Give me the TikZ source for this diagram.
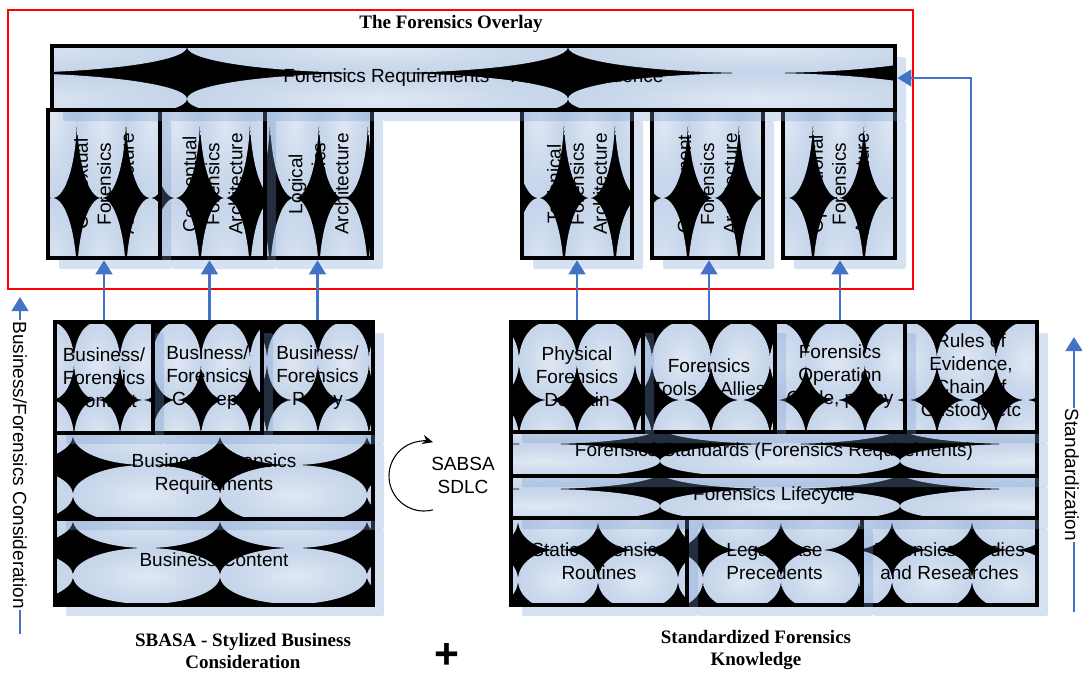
\documentclass[tikz,border=0pt]{standalone}
\usepackage{fontspec}
\setmainfont{Liberation Serif}
\setsansfont{Liberation Sans}
\usetikzlibrary{arrows.meta}

\definecolor{ellin}{RGB}{224,232,244}
\definecolor{ellmid}{RGB}{203,217,236}
\definecolor{ellout}{RGB}{176,196,226}
\definecolor{shadowblue}{RGB}{120,155,210}
\definecolor{linkblue}{RGB}{68,114,196}

% soft light-blue fill for one ellipse tile
\pgfdeclareradialshading{ellfill}{\pgfpoint{0bp}{0bp}}{color(0bp)=(ellin); color(18bp)=(ellmid); color(50bp)=(ellout); color(100bp)=(ellout)}

\tikzset{
  panel/.style={draw=black, line width=3.5pt, rectangle, inner sep=0pt, outer sep=1.75pt},
  lbl/.style={font=\sffamily\fontsize{14.25pt}{17.25pt}\selectfont, align=center, inner sep=0pt, text=black},
  capt/.style={font=\rmfamily\bfseries\fontsize{14.25pt}{16.5pt}\selectfont, align=center, inner sep=0pt},
  link/.style={draw=linkblue, line width=1.9pt, -{Triangle[width=12.5pt,length=10.5pt]}},
}

% black ground tiled with shaded ellipses (4-point star gaps)
% #1,#2 corner  #3,#4 opposite corner  #5 first gap x  #6 x period  #7 gap row y  #8 y period
\newcommand\tilefill[8]{%
  \begin{scope}
    \clip (#1,#2) rectangle (#3,#4);
    \fill[black] (#1,#2) rectangle (#3,#4);
    \foreach \ti in {-1,...,3}{%
      \foreach \tj in {-1,...,2}{%
        \pgfmathsetmacro\tlx{#5-#6/2+\ti*#6}%
        \pgfmathsetmacro\tly{#7-#8/2+\tj*#8}%
        \shade[shading=ellfill] (\tlx,\tly) ellipse [x radius=#6/2, y radius=#8/2];
      }}
  \end{scope}}

% shadow + tiled fill + framed node
% #1 name  #2..#5 box  #6..#9 tiling
\newcommand\tiledpanel[9]{%
  \fill[shadowblue, fill opacity=0.3, rounded corners=1.5pt] ({#2+11},{#3+11}) rectangle ({#4+11},{#5+11});
  \tilefill{#2}{#3}{#4}{#5}{#6}{#7}{#8}{#9}%
  \pgfmathsetmacro\pnw{(#4-#2)*0.75}%
  \pgfmathsetmacro\pnh{(#5-#3)*0.75}%
  \node[panel, minimum width=\pnw pt, minimum height=\pnh pt] (#1) at ({(#2+#4)/2},{(#3+#5)/2}) {};
}

\begin{document}
\begin{tikzpicture}[x=0.75pt,y=-0.75pt]
\useasboundingbox (0,0) rectangle (1082,675);

% ---------- the forensics overlay ----------
\draw[red, line width=2pt] (8,10) rectangle (913,289);
\node[capt] (title) at (451,24) {The Forensics Overlay};

\tiledpanel{V3}{265}{110}{372}{258}{270}{49}{198}{166}
\tiledpanel{V2}{160}{110}{265}{258}{150}{50}{198}{166}
\tiledpanel{V1}{48}{110}{160}{258}{77}{49}{198}{166}
\tiledpanel{V6}{783}{110}{895}{258}{813}{51}{198}{166}
\tiledpanel{V5}{652}{110}{763}{258}{688}{51}{198}{166}
\tiledpanel{V4}{522}{110}{632}{258}{564}{51}{198}{166}
\tiledpanel{BAN}{52}{46}{895}{110}{187}{381}{73}{52}

\node[lbl] at (BAN) {Forensics Requirements – Rules of Evidence};
\node[lbl, rotate=90] at (V1) {Contextual\\Forensics\\Architecture};
\node[lbl, rotate=90] at (V2) {Conceptual\\Forensics\\Architecture};
\node[lbl, rotate=90] at (V3) {Logical\\Forensics\\Architecture};
\node[lbl, rotate=90] at (V4) {Technical\\Forensics\\Architecture};
\node[lbl, rotate=90] at (V5) {Component\\Forensics\\Architecture};
\node[lbl, rotate=90] at (V6) {Operational\\Forensics\\Architecture};

% ---------- business block ----------
\tiledpanel{BC}{55}{519}{373}{605}{73}{147}{548}{56}
\tiledpanel{REQ}{55}{433}{373}{519}{73}{147}{465}{60}
\tiledpanel{C3}{262}{322}{373}{433}{267}{51}{400}{78}
\tiledpanel{C2}{153}{322}{262}{433}{152}{49}{400}{78}
\tiledpanel{C1}{55}{322}{153}{433}{74}{46}{400}{78}

\node[lbl] at (C1) {Business/\\Forensics\\Context};
\node[lbl] at (C2) {Business/\\Forensics\\Concept};
\node[lbl] at (C3) {Business/\\Forensics\\Policy};
\node[lbl] at ([yshift=1.5pt]REQ) {Business/Forensics\\Requirements};
\node[lbl] at ([yshift=1.5pt]BC) {Business Content};

% ---------- standardized knowledge block ----------
\tiledpanel{B3}{862}{518}{1037}{605}{892}{80}{550}{60}
\tiledpanel{B2}{687}{518}{862}{605}{703}{78}{550}{60}
\tiledpanel{B1}{511}{518}{687}{605}{518}{80}{550}{60}
\tiledpanel{LIFE}{511}{476}{1037}{518}{660}{240}{489}{34}
\tiledpanel{STD}{511}{432}{1037}{476}{660}{240}{444}{34}
\tiledpanel{R4}{905}{322}{1037}{432}{937}{59}{400}{78}
\tiledpanel{R3}{775}{322}{905}{432}{806}{59}{400}{78}
\tiledpanel{R2}{643}{322}{775}{432}{652}{59}{400}{78}
\tiledpanel{R1}{511}{322}{643}{432}{519}{58}{400}{78}

\node[lbl] at (R1) {Physical\\Forensics\\Domain};
\node[lbl] at (R2) {Forensics\\Tools \& Allies};
\node[lbl] at (R3) {Forensics\\Operation\\Cycle, policy};
\node[lbl] at (R4) {Rules of\\Evidence,\\Chain of\\Custody etc};
\node[lbl] at ([yshift=1.5pt]STD) {Forensics Standards (Forensics Requirements)};
\node[lbl] at ([yshift=1pt]LIFE) {Forensics Lifecycle};
\node[lbl] at (B1) {Static Forensics\\Routines};
\node[lbl] at (B2) {Legal Case\\Precedents};
\node[lbl] at (B3) {Forensics Studies\\and Researches};

% ---------- links into the overlay ----------
\draw[link] (C1.north) -- (C1.north |- V1.south);
\draw[link] ([xshift=1.5pt]C2.north) -- ([xshift=1.5pt]C2.north |- V2.south);
\draw[link] (C3.north) -- (C3.north |- V3.south);
\draw[link] (R1.north) -- (R1.north |- V4.south);
\draw[link] (R2.north) -- (R2.north |- V5.south);
\draw[link] (R3.north) -- (R3.north |- V6.south);
\draw[link] (R4.north) |- (BAN.east);

% ---------- side axes ----------
\coordinate (bfLow) at (20,634);
\coordinate (bfHigh) at (20,297);
\draw[link] (bfLow) -- (bfHigh);
\node[lbl, rotate=-90, fill=white, inner sep=1pt] (bfText) at (20,465) {Business/Forensics Consideration};

\coordinate (stLow) at (1074,612);
\coordinate (stHigh) at (1074,337);
\draw[link] (stLow) -- (stHigh);
\node[lbl, rotate=-90, fill=white, inner sep=1pt] (stText) at (1072,475) {Standardization};

% ---------- SABSA cycle ----------
\coordinate (cyc) at (424,476);
\draw[black, line width=0.8pt, -{Stealth[length=8pt,width=7pt]}] (cyc) ++(75:35) arc[start angle=75, end angle=285, radius=35];
\node[lbl] (sabsa) at (463,475) {SABSA\\SDLC};

% ---------- captions ----------
\node[capt] (capL) at (243,651) {SBASA - Stylized Business\\Consideration};
\node[capt] (capR) at (756,650) {Standardized Forensics\\Knowledge};
\node[font=\sffamily\bfseries\fontsize{32pt}{32pt}\selectfont, inner sep=0pt] (plus) at (447,656) {+};

\end{tikzpicture}
\end{document}
